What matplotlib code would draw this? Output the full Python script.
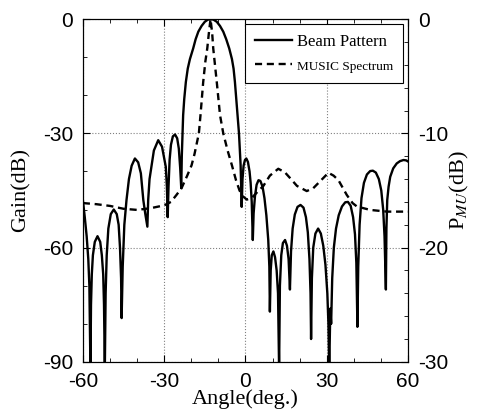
import matplotlib.pyplot as plt
from matplotlib.ticker import MultipleLocator

# Beam pattern (left axis, dB)
beam_angle = [-60, -59.3, -58.6, -58.0, -57.6, -57.2,
              -57.0, -56.7, -56.3, -55.6, -54.6, -53.6, -53.0, -52.5, -52.2, -51.9,
              -51.6, -51.2, -50.6, -49.7, -48.6, -47.5, -46.8, -46.3, -45.9, -45.7,
              -45.3, -44.7, -43.9, -43.0, -42.0, -40.8, -39.6, -38.6, -37.7, -37.0, -36.2,
              -35.9, -35.4, -34.7, -33.8, -32.2, -30.8, -29.9, -29.4, -29.0, -28.7,
              -28.4, -28.0, -27.5, -26.8, -26.0, -25.2, -24.6, -24.1, -23.7,
              -23.5, -23.2, -23.0, -22.6, -22.0, -21.3, -20.5, -19.3, -18.4, -17.4,
              -16.2, -15.0, -13.9, -12.9, -11.8, -10.6, -9.4, -8.2, -7.1, -6.0,
              -5.0, -4.4, -3.9, -3.4, -2.9, -2.4, -1.8, -1.4,
              -1.1, -0.7, -0.2, 0.3, 0.9, 1.5, 1.9, 2.3, 2.7,
              3.0, 3.5, 4.1, 4.8, 5.5, 6.3, 7.0, 7.7, 8.4, 8.8, 9.0,
              9.3, 9.7, 10.3, 10.9, 11.5, 12.0, 12.4,
              12.7, 13.2, 13.8, 14.6, 15.3, 15.9, 16.4,
              16.8, 17.4, 18.2, 19.2, 20.3, 21.4, 22.3, 23.0, 23.6, 24.0, 24.2,
              24.5, 25.0, 25.8, 26.8, 27.8, 28.7, 29.5, 30.2, 30.6, 30.9,
              31.3, 31.6, 32.0, 32.6, 33.4, 34.4, 35.6, 36.8, 37.8, 38.8, 39.7,
              40.4, 40.9, 41.3,
              41.6, 42.1, 42.8, 43.7, 44.8, 46.0, 47.0, 48.1, 49.2, 50.1, 50.8,
              51.3, 51.8,
              52.0, 52.3, 52.8, 53.4, 54.5, 55.8, 57.0, 58.3, 59.3, 60]
beam_gain = [-47.5, -52, -57, -63, -70, -92,
             -75, -67, -62, -58.5, -57, -58.5, -62, -67, -75, -92,
             -72, -62, -55, -51.2, -50, -51.2, -54, -60, -68, -78.5,
             -65, -54, -47.5, -42, -38.5, -36.6, -37.6, -40.5, -47.5, -51, -54.5,
             -47.5, -42, -38.8, -34.5, -31.8, -33.5, -37, -38.8, -44, -52,
             -44, -37, -33, -30.8, -30.3, -31.3, -34, -39, -44.4,
             -36, -30, -25.2, -21, -16.5, -13, -10.5, -7.7, -5.3, -3.3,
             -1.8, -0.7, -0.15, 0, -0.15, -0.7, -1.8, -3.3, -5.3, -7.7,
             -10.5, -13, -16.5, -21, -25.2, -30, -38.3, -49.3,
             -42, -38.5, -37, -36.6, -37.5, -40, -43, -48, -58,
             -51, -46.5, -43.5, -42.3, -42.5, -44, -47, -51.5, -58, -65, -76.8,
             -66, -62, -61, -62.5, -66, -72, -92,
             -70, -62, -58.8, -58, -59.5, -63, -71,
             -61, -55, -51.3, -49.3, -48.8, -49.5, -52, -56, -63, -72, -84,
             -68, -60, -56.3, -55, -56.3, -59.5, -64.5, -72, -80, -92,
             -76, -80, -68, -60, -55, -51.5, -49.2, -48.1, -48, -49, -52,
             -56.5, -64, -80.8,
             -65, -54, -47, -43, -40.8, -39.9, -39.8, -40.3, -42, -45, -50,
             -57, -71,
             -55, -47.5, -44, -41.4, -39.2, -37.9, -37.3, -37, -37.1, -37.4]

# MUSIC spectrum (right axis, dB)
music_angle = [-60, -55, -50, -45, -40, -35, -30, -27.5, -25.5, -23.6,
               -21.5, -19.9, -18.8, -17.2, -16.6, -15.6, -14.8, -14.1,
               -13.5, -12.9, -12.3, -11.9, -10.6, -9.4, -8.2, -6.6, -5.0,
               -3.5, -2.2, -1.0, 0.5, 2.5, 4.5, 6.6, 9.0, 12.1, 14.5, 16.4,
               19.0, 22.6, 25.0, 27.5, 30.6, 32.5, 34.3, 37.4, 39.5, 41.1,
               46.0, 52.2, 60]
music_p = [-16.1, -16.2, -16.35, -16.6, -16.7, -16.55, -16.3, -16.0, -15.4, -14.8,
           -13.7, -12.8, -11.8, -10.0, -8.4, -5.5, -3.7, -2.56,
           -1.2, 0, -1.2, -2.56, -5.5, -8.4, -10.0, -11.5, -12.8,
           -14.1, -15.0, -15.5, -15.8, -15.6, -15.1, -14.6, -13.7, -13.1, -13.4, -13.9,
           -14.6, -15.05, -14.8, -14.2, -13.45, -13.7, -14.1, -15.4, -16.1, -16.4,
           -16.7, -16.85, -16.85]

plt.rcParams['font.family'] = ['Liberation Serif', 'DejaVu Serif']
plt.rcParams['mathtext.fontset'] = 'stix'
plt.rcParams['axes.unicode_minus'] = False

fig = plt.figure(figsize=(4.79, 4.15), dpi=100)
ax = fig.add_axes([0.173, 0.128, 0.679, 0.826])
ax2 = ax.twinx()

l1, = ax.plot(beam_angle, beam_gain, color='black', lw=1.7, label='Beam Pattern')
l2, = ax2.plot(music_angle, music_p, color='black', lw=1.7, ls=(0, (3, 2)),
               label='MUSIC Spectrum')

ax.set_xlim(-60, 60)
ax.set_ylim(-90, 0)
ax2.set_ylim(-30, 0)

ax.xaxis.set_major_locator(MultipleLocator(30))
ax.xaxis.set_minor_locator(MultipleLocator(10))
ax.yaxis.set_major_locator(MultipleLocator(30))
ax.yaxis.set_minor_locator(MultipleLocator(10))
ax2.yaxis.set_major_locator(MultipleLocator(10))
ax2.yaxis.set_minor_locator(MultipleLocator(2))

ax.tick_params(which='both', direction='in', top=True, right=False)
ax.tick_params(which='major', length=5, labelsize=15)
ax.tick_params(which='minor', length=3)
ax.tick_params(axis='x', which='major', pad=7)
ax.tick_params(axis='y', which='major', pad=7)
ax2.tick_params(which='both', direction='in')
ax2.tick_params(which='major', length=5, labelsize=15, pad=7)
ax2.tick_params(which='minor', length=3)
for lab in ax.get_xticklabels() + ax.get_yticklabels() + ax2.get_yticklabels():
    lab.set_family('Liberation Sans')

ax.grid(True, which='major', ls=':', color='gray', lw=0.8)

ax.set_xlabel('Angle(deg.)', fontsize=16, labelpad=-1)
ax.set_ylabel('Gain(dB)', fontsize=16, labelpad=9)
ax2.set_ylabel(r'P$_{\mathit{MU}}$(dB)', fontsize=16, labelpad=0)

leg = ax2.legend(handles=[l1, l2], loc='upper right', fontsize=12,
                 fancybox=False, edgecolor='black', framealpha=1,
                 handlelength=2.2, borderaxespad=0.3, handletextpad=0.3,
                 borderpad=0.6, labelspacing=0.5)
leg.get_frame().set_linewidth(0.8)
leg.get_texts()[1].set_fontsize(9.5)

fig.savefig('out.png', dpi=100)
